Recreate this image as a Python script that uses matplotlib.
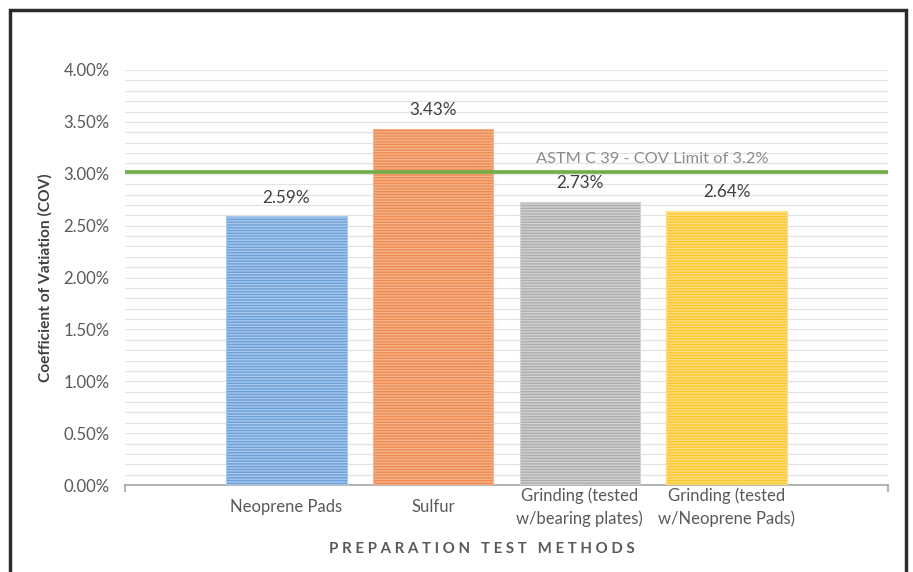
import matplotlib.pyplot as plt
import matplotlib.patches as mpatches
from matplotlib.ticker import MultipleLocator, FuncFormatter

plt.rcParams['font.family'] = ['Lato', 'DejaVu Sans']
plt.rcParams['hatch.linewidth'] = 1.0

# data
methods = ['Neoprene Pads', 'Sulfur', 'Grinding (tested\nw/bearing plates)',
           'Grinding (tested\nw/Neoprene Pads)']
cov = [2.59, 3.43, 2.73, 2.64]
cov_labels = ['2.59%', '3.43%', '2.73%', '2.64%']
limit_value = 3.02
limit_text = 'ASTM C 39 - COV Limit of 3.2%'

bar_colors = ['#6A9FD8', '#EE8A4F', '#ADADAD', '#FDC72A']
stripe_colors = ['#A9C8EC', '#F6B48C', '#D2D2D2', '#FEDE80']

fig = plt.figure(figsize=(9.13, 5.72), dpi=100)
ax = fig.add_axes([125/913, 1 - 485/572, (888 - 125)/913, (485 - 70)/572])

x = list(range(len(methods)))
for i in x:
	ax.bar(i, cov[i], width=0.82, color=bar_colors[i], edgecolor=stripe_colors[i],
		linewidth=0.8, hatch='------', zorder=3)
	ax.text(i, cov[i] + 0.18, cov_labels[i], ha='center', va='center',
		fontsize=12.3, color='#404040', zorder=5)

ax.axhline(limit_value, color='#70AD47', linewidth=2.6, zorder=4)
ax.text(2.49, limit_value + 0.12, limit_text, ha='center', va='center',
	fontsize=11.8, color='#8C8C8C', zorder=5)

ax.set_xlim(-1.1, len(methods) - 1 + 1.1)
ax.set_ylim(0, 4.0)
ax.yaxis.set_major_locator(MultipleLocator(0.5))
ax.yaxis.set_minor_locator(MultipleLocator(0.1))
ax.yaxis.set_major_formatter(FuncFormatter(lambda v, p: '%.2f%%' % v))
ax.grid(which='both', axis='y', color='#E3E3E3', linewidth=0.9, zorder=0)
ax.set_axisbelow(True)

for s in ['top', 'right', 'left']:
	ax.spines[s].set_visible(False)
ax.spines['bottom'].set_color('#A6A6A6')
ax.spines['bottom'].set_linewidth(1.2)

ax.tick_params(axis='y', which='both', length=0, labelsize=12, labelcolor='#595959', pad=11)
ax.set_xticks(x)
ax.set_xticklabels(methods, fontsize=12, color='#595959', va='center', linespacing=1.5)
ax.tick_params(axis='x', length=0, pad=16)
# end ticks of the category axis
for xe in ax.get_xlim():
	ax.plot([xe, xe], [0, -0.06], color='#A6A6A6', linewidth=1.2, clip_on=False)

ax.set_ylabel('Coefficient of Vatiation (COV)', fontsize=11.2, fontweight='bold',
	color='#404040', labelpad=8)
fig.text(0.528, 1 - 549/572, 'P R E P A R A T I O N   T E S T   M E T H O D S',
	ha='center', va='center', fontsize=10.8, fontweight='bold', color='#595959')

# outer frame
frame = mpatches.Rectangle((10/913, -0.05), 896/913, 1.05 - 10/572, transform=fig.transFigure,
	fill=False, edgecolor='#2B2B2B', linewidth=2.5)
fig.patches.append(frame)

fig.savefig('out.png', dpi=100)
